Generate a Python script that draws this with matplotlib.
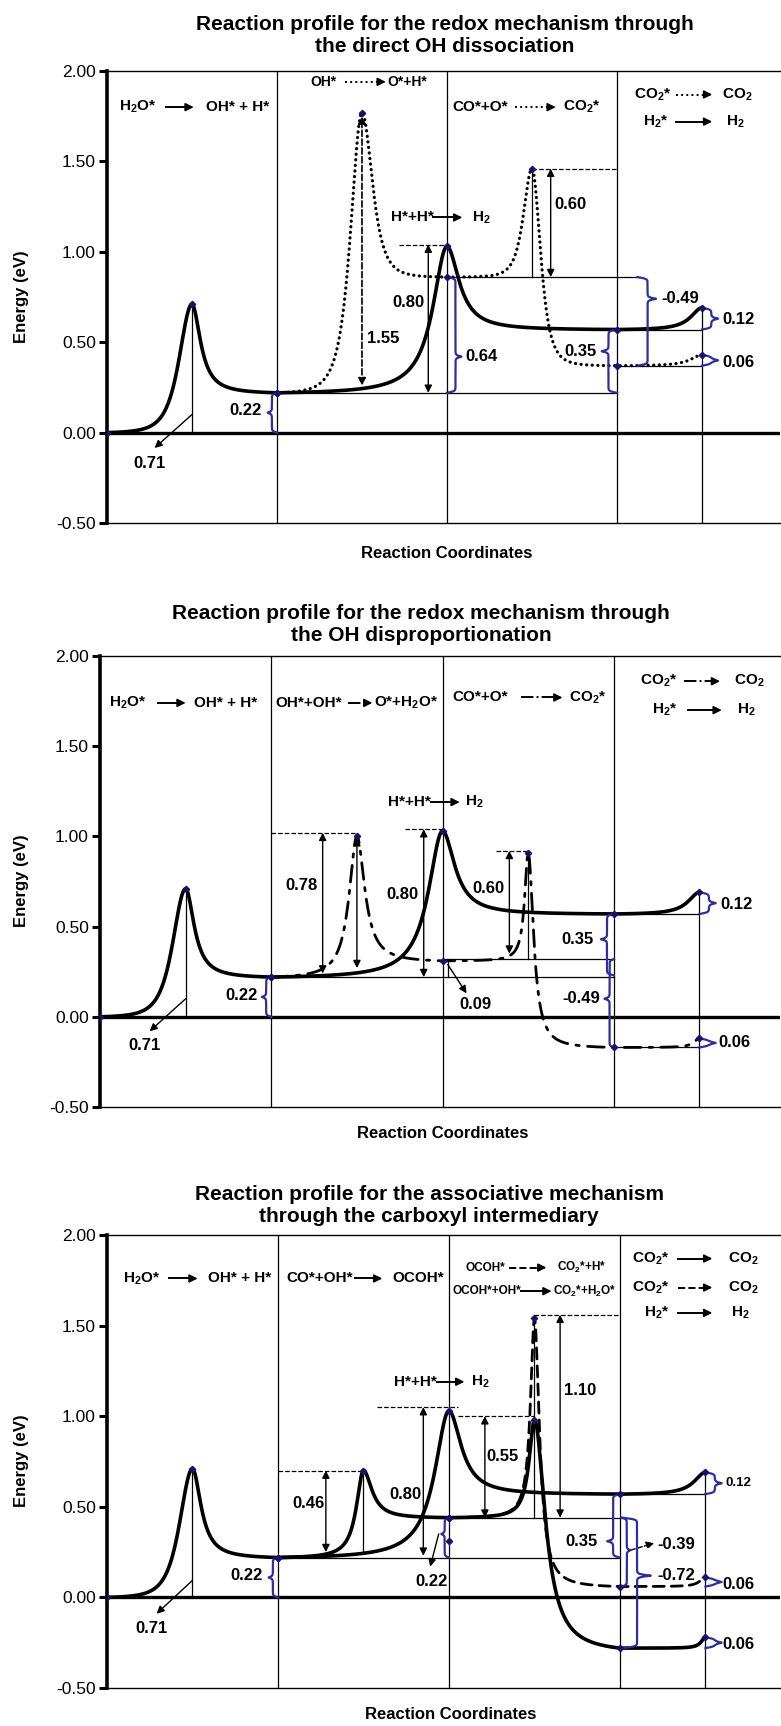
import numpy as np
import matplotlib
matplotlib.use('Agg')
import matplotlib.pyplot as plt

plt.rcParams['font.family'] = ['Liberation Sans', 'DejaVu Sans']
plt.rcParams['mathtext.fontset'] = 'custom'
plt.rcParams['mathtext.rm'] = 'Liberation Sans:bold'
plt.rcParams['mathtext.it'] = 'Liberation Sans:bold'
plt.rcParams['mathtext.bf'] = 'Liberation Sans:bold'

# ---- datos: puntos estacionarios (coordenada de reaccion, energia en eV) ----
coord_h2 = [0, 0.5, 1, 2, 3, 3.5]
energia_h2 = [0.00, 0.71, 0.22, 1.03, 0.57, 0.69]

coord_oh = [1, 1.5, 2, 2.5, 3, 3.5]
energia_disociacion = [0.22, 1.77, 0.86, 1.46, 0.37, 0.43]
energia_desproporcion = [0.22, 1.00, 0.31, 0.91, -0.17, -0.12]
energia_carboxilo = [0.22, 0.70, 0.44, 0.98, -0.28, -0.22]

coord_ocoh = [2, 2.5, 3, 3.5]
energia_ocoh = [0.44, 1.54, 0.06, 0.11]

ticks_y = [-0.5, 0.0, 0.5, 1.0, 1.5, 2.0]

titulos = ["Reaction profile for the redox mechanism through\nthe direct OH dissociation",
           "Reaction profile for the redox mechanism through\nthe OH disproportionation",
           "Reaction profile for the associative mechanism\nthrough the carboxyl intermediary"]

AZUL = '#2e2e9c'
MARCA = '#141470'
W, H = 781, 1726


def tramo(x0, e0, x1, e1, w, p, n=300):
    """Tramo suave entre dos puntos estacionarios (forma de pico)."""
    xs = np.linspace(x0, x1, n)
    U = (x1 - x0) / w
    if e1 > e0:
        u = (x1 - xs) / w
        alto, base = e1, e0
    else:
        u = (xs - x0) / w
        alto, base = e0, e1
    f = 1 / (1 + u ** 2) ** p
    fU = 1 / (1 + U ** 2) ** p
    f = (f - fU) / (1 - fU)
    return xs, base + (alto - base) * f


def perfil(ax, xs, es, formas, estilo='-', lw=2.6):
    px, py = [], []
    for i in range(len(xs) - 1):
        w, p = formas[i]
        a, b = tramo(xs[i], es[i], xs[i + 1], es[i + 1], w, p)
        px.extend(a)
        py.extend(b)
    ax.plot(px, py, color='k', lw=lw, ls=estilo, zorder=3,
            solid_capstyle='round', dash_capstyle='round')
    ax.plot(xs, es, 'D', ms=3.2, color=MARCA, zorder=5)


def llave(ax, x, y0, y1, lado, ym=None, w1=0.03, w2=0.025, beta=220):
    if ym is None:
        ym = (y0 + y1) / 2
    ya = np.linspace(y0, ym, 150)
    s = np.abs(ya - y0)
    h = abs(ym - y0)
    xa = w1 * (2 / (1 + np.exp(-beta * s)) - 1) + w2 * 2 / (1 + np.exp(-beta * (s - h)))
    yb = np.linspace(ym, y1, 150)
    s = np.abs(y1 - yb)
    h = abs(y1 - ym)
    xb = w1 * (2 / (1 + np.exp(-beta * s)) - 1) + w2 * 2 / (1 + np.exp(-beta * (s - h)))
    ax.plot(x + lado * np.concatenate([xa, xb]), np.concatenate([ya, yb]),
            color=AZUL, lw=1.6, zorder=4)


def flecha(ax, x0, y0, x1, y1, doble=False, ls='-', lw=1.0):
    ax.annotate('', xy=(x1, y1), xytext=(x0, y0),
                arrowprops=dict(arrowstyle='<|-|>' if doble else '-|>', color='k',
                                lw=lw, linestyle=ls, mutation_scale=11,
                                shrinkA=0, shrinkB=0), zorder=4)


def valor(ax, x, y, texto, ha='center', fs=12):
    ax.text(x, y, texto, ha=ha, va='center', fontsize=fs, fontweight='bold', zorder=6)


def reaccion(ax, y, izq, x_izq, xa0, xa1, der, x_der, estilo='-', fs=11):
    ax.text(x_izq, y, izq, ha='right', va='center', fontsize=fs, fontweight='bold')
    ax.plot([xa0, xa1 - 0.03], [y, y], color='k', lw=1.4, ls=estilo)
    ax.annotate('', xy=(xa1, y), xytext=(xa1 - 0.04, y),
                arrowprops=dict(arrowstyle='-|>', color='k', lw=1.2,
                                mutation_scale=12, shrinkA=0, shrinkB=0))
    ax.text(x_der, y, der, ha='left', va='center', fontsize=fs, fontweight='bold')


def hlinea(ax, x0, x1, y, ls='-'):
    ax.plot([x0, x1], [y, y], color='k', lw=0.9, ls=ls, zorder=2)


def vlinea(ax, x, y0, y1):
    ax.plot([x, x], [y0, y1], color='k', lw=0.9, zorder=2)


def ejes(fig, izq, der, arriba, abajo, xmax):
    ax = fig.add_axes([izq / W, 1 - abajo / H, (der - izq) / W, (abajo - arriba) / H])
    ax.set_xlim(0, xmax)
    ax.set_ylim(-0.5, 2.0)
    ax.set_yticks(ticks_y)
    ax.set_yticklabels(['%.2f' % t for t in ticks_y])
    ax.set_xticks([])
    ax.tick_params(axis='y', direction='out', length=6, width=2.2, labelsize=12.5, pad=2)
    ax.spines['right'].set_visible(False)
    ax.spines['left'].set_linewidth(2.6)
    ax.spines['top'].set_linewidth(1.0)
    ax.spines['bottom'].set_linewidth(1.0)
    ax.axhline(0, color='k', lw=2.4, zorder=2)
    for xd in [1, 2, 3]:
        ax.axvline(xd, color='k', lw=0.9, zorder=1)
    vlinea(ax, 0.5, 0, 0.71)
    vlinea(ax, 3.5, -0.5, 0.69)
    return ax


fig = plt.figure(figsize=(W / 100, H / 100), dpi=100)

forma_h2 = [(0.135, 2), (0.06, 1), (0.1, 1), (0.085, 1), (0.08, 1)]
punteado = (0, (0.05, 1.7))

# ================= Panel 1: disociacion directa de OH =================
ax = ejes(fig, 107, 780, 71, 523, 3.959)
perfil(ax, coord_h2, energia_h2, forma_h2)
perfil(ax, coord_oh, energia_disociacion,
       [(0.12, 2), (0.11, 2), (0.09, 2), (0.09, 2), (0.08, 1)], estilo=punteado, lw=2.3)
reaccion(ax, 1.80, "H$_2$O*", 0.29, 0.35, 0.51, "OH* + H*", 0.58)
reaccion(ax, 1.94, "OH*", 1.35, 1.40, 1.64, "O*+H*", 1.65, estilo=':', fs=10)
reaccion(ax, 1.80, "CO*+O*", 2.36, 2.40, 2.64, "CO$_2$*", 2.68, estilo=':')
reaccion(ax, 1.87, "CO$_2$*", 3.32, 3.35, 3.56, "CO$_2$", 3.62, estilo=':')
reaccion(ax, 1.72, "H$_2$*", 3.30, 3.35, 3.56, "H$_2$", 3.64)
reaccion(ax, 1.19, "H*+H*", 1.92, 1.92, 2.09, "H$_2$", 2.15)
hlinea(ax, 1, 3, 0.22)
hlinea(ax, 2, 3.13, 0.86)
hlinea(ax, 3, 3.5, 0.57)
hlinea(ax, 3, 3.5, 0.37)
hlinea(ax, 1.72, 2.03, 1.04, ls='--')
hlinea(ax, 2.5, 3.0, 1.46, ls='--')
vlinea(ax, 2.5, 0.86, 1.46)
flecha(ax, 0.5, 0.10, 0.28, -0.085)
valor(ax, 0.25, -0.17, "0.71")
flecha(ax, 1.89, 0.22, 1.89, 1.04, doble=True)
valor(ax, 1.87, 0.72, "0.80", ha='right')
flecha(ax, 2.61, 0.86, 2.61, 1.46, doble=True)
valor(ax, 2.63, 1.26, "0.60", ha='left')
flecha(ax, 1.5, 0.26, 1.5, 1.75, doble=True, ls='--', lw=1.2)
valor(ax, 1.53, 0.52, "1.55", ha='left')
llave(ax, 1.0, 0.0, 0.22, -1)
valor(ax, 0.91, 0.12, "0.22", ha='right')
llave(ax, 2.0, 0.22, 0.86, 1, ym=0.42, w1=0.05, w2=0.035)
valor(ax, 2.11, 0.42, "0.64", ha='left')
llave(ax, 3.12, 0.37, 0.86, 1, ym=0.74, w1=0.06, w2=0.05)
valor(ax, 3.26, 0.74, "-0.49", ha='left')
llave(ax, 3.0, 0.22, 0.57, -1, ym=0.45, w1=0.05, w2=0.04)
valor(ax, 2.88, 0.45, "0.35", ha='right')
llave(ax, 3.5, 0.57, 0.69, 1, w1=0.055, w2=0.04)
valor(ax, 3.62, 0.627, "0.12", ha='left')
llave(ax, 3.5, 0.37, 0.43, 1, w1=0.055, w2=0.04)
valor(ax, 3.62, 0.385, "0.06", ha='left')

# ================= Panel 2: desproporcion de OH =================
ax = ejes(fig, 100, 780, 656, 1107, 3.97)
perfil(ax, coord_h2, energia_h2, forma_h2)
perfil(ax, coord_oh, energia_desproporcion,
       [(0.055, 1), (0.055, 1), (0.025, 1), (0.037, 1), (0.04, 1)],
       estilo=(0, (6, 3, 1.2, 3)), lw=2.0)
reaccion(ax, 1.74, "H$_2$O*", 0.27, 0.34, 0.50, "OH* + H*", 0.55)
reaccion(ax, 1.74, "OH*+OH*", 1.41, 1.45, 1.59, "O*+H$_2$O*", 1.60, estilo='-.')
reaccion(ax, 1.77, "CO*+O*", 2.38, 2.46, 2.70, "CO$_2$*", 2.74, estilo='-.')
reaccion(ax, 1.86, "CO$_2$*", 3.37, 3.41, 3.62, "CO$_2$", 3.70, estilo='-.')
reaccion(ax, 1.70, "H$_2$*", 3.37, 3.43, 3.63, "H$_2$", 3.72)
reaccion(ax, 1.19, "H*+H*", 1.93, 1.93, 2.10, "H$_2$", 2.13)
hlinea(ax, 1, 3, 0.22)
hlinea(ax, 2, 3, 0.32)
hlinea(ax, 3, 3.5, 0.57)
hlinea(ax, 3, 3.5, -0.17)
hlinea(ax, 1.0, 1.5, 1.02, ls='--')
hlinea(ax, 1.78, 2.0, 1.04, ls='--')
hlinea(ax, 2.31, 2.5, 0.92, ls='--')
vlinea(ax, 2.5, 0.32, 0.91)
vlinea(ax, 2.03, 0.22, 0.32)
flecha(ax, 0.5, 0.10, 0.29, -0.08)
valor(ax, 0.26, -0.16, "0.71")
flecha(ax, 1.30, 0.24, 1.30, 1.02, doble=True)
valor(ax, 1.27, 0.73, "0.78", ha='right')
flecha(ax, 1.5, 0.27, 1.5, 0.99, doble=True)
flecha(ax, 1.89, 0.22, 1.89, 1.04, doble=True)
valor(ax, 1.86, 0.68, "0.80", ha='right')
flecha(ax, 2.39, 0.35, 2.39, 0.92, doble=True)
valor(ax, 2.36, 0.71, "0.60", ha='right')
flecha(ax, 2.03, 0.29, 2.14, 0.13)
valor(ax, 2.19, 0.07, "0.09")
llave(ax, 1.0, 0.0, 0.22, -1)
valor(ax, 0.92, 0.12, "0.22", ha='right')
llave(ax, 3.0, 0.23, 0.57, -1, ym=0.43, w1=0.04, w2=0.035)
valor(ax, 2.88, 0.43, "0.35", ha='right')
llave(ax, 3.0, -0.17, 0.32, -1, ym=0.10, w1=0.025, w2=0.03)
valor(ax, 2.92, 0.10, "-0.49", ha='right')
llave(ax, 3.5, 0.57, 0.69, 1, w1=0.055, w2=0.04)
valor(ax, 3.62, 0.62, "0.12", ha='left')
llave(ax, 3.5, -0.17, -0.12, 1, w1=0.055, w2=0.04)
valor(ax, 3.61, -0.14, "0.06", ha='left')

# ================= Panel 3: mecanismo asociativo (carboxilo) =================
ax = ejes(fig, 107, 780, 1235, 1688, 3.936)
perfil(ax, coord_h2, energia_h2, forma_h2)
perfil(ax, coord_oh, energia_carboxilo,
       [(0.05, 1), (0.06, 1), (0.038, 1), (0.075, 1), (0.03, 1)])
perfil(ax, coord_ocoh, energia_ocoh, [(0.028, 1), (0.035, 1), (0.04, 1)],
       estilo=(0, (4, 2.5)), lw=2.0)
ax.plot([2.0], [0.31], 'D', ms=3.2, color=MARCA, zorder=5)
reaccion(ax, 1.76, "H$_2$O*", 0.31, 0.36, 0.53, "OH* + H*", 0.59)
reaccion(ax, 1.76, "CO*+OH*", 1.44, 1.45, 1.61, "OCOH*", 1.67)
reaccion(ax, 1.82, "OCOH*", 2.33, 2.35, 2.57, "CO$_2$*+H*", 2.63, estilo='--', fs=8.5)
reaccion(ax, 1.69, "OCOH*+OH*", 2.42, 2.42, 2.60, "CO$_2$*+H$_2$O*", 2.61, fs=8.5)
reaccion(ax, 1.87, "CO$_2$*", 3.29, 3.34, 3.54, "CO$_2$", 3.63)
reaccion(ax, 1.71, "CO$_2$*", 3.29, 3.34, 3.54, "CO$_2$", 3.63, estilo='--')
reaccion(ax, 1.57, "H$_2$*", 3.29, 3.34, 3.54, "H$_2$", 3.65)
reaccion(ax, 1.19, "H*+H*", 1.93, 1.93, 2.09, "H$_2$", 2.13)
hlinea(ax, 1, 3, 0.22)
hlinea(ax, 2, 3.01, 0.44)
hlinea(ax, 3, 3.5, 0.57)
hlinea(ax, 1.0, 1.5, 0.70, ls='--')
hlinea(ax, 1.58, 2.05, 1.05, ls='--')
hlinea(ax, 2.05, 2.5, 1.0, ls='--')
hlinea(ax, 2.5, 3.0, 1.56, ls='--')
vlinea(ax, 1.5, 0.24, 0.69)
vlinea(ax, 2.5, 0.44, 1.54)
flecha(ax, 0.5, 0.094, 0.29, -0.09)
valor(ax, 0.26, -0.17, "0.71")
flecha(ax, 1.28, 0.25, 1.28, 0.70, doble=True)
valor(ax, 1.27, 0.52, "0.46", ha='right')
flecha(ax, 1.85, 0.23, 1.85, 1.05, doble=True)
valor(ax, 1.84, 0.57, "0.80", ha='right')
flecha(ax, 2.21, 0.44, 2.21, 1.0, doble=True)
valor(ax, 2.22, 0.78, "0.55", ha='left')
flecha(ax, 2.65, 0.44, 2.65, 1.56, doble=True)
valor(ax, 2.67, 1.14, "1.10", ha='left')
flecha(ax, 1.94, 0.35, 1.89, 0.17)
valor(ax, 1.90, 0.09, "0.22")
flecha(ax, 3.06, 0.26, 3.2, 0.30, ls='--')
valor(ax, 3.22, 0.29, "-0.39", ha='left')
llave(ax, 1.0, 0.0, 0.22, -1)
valor(ax, 0.91, 0.12, "0.22", ha='right')
llave(ax, 2.0, 0.22, 0.44, -1, ym=0.35, w1=0.025, w2=0.02)
llave(ax, 3.0, 0.22, 0.57, -1, ym=0.31, w1=0.04, w2=0.035)
valor(ax, 2.87, 0.31, "0.35", ha='right')
llave(ax, 3.01, 0.06, 0.44, 1, ym=0.26, w1=0.03, w2=0.02)
llave(ax, 3.01, -0.28, 0.44, 1, ym=0.12, w1=0.09, w2=0.08)
valor(ax, 3.22, 0.12, "-0.72", ha='left')
llave(ax, 3.5, 0.57, 0.69, 1, w1=0.055, w2=0.04)
valor(ax, 3.62, 0.63, "0.12", ha='left', fs=9.5)
llave(ax, 3.5, 0.06, 0.11, 1, w1=0.055, w2=0.04)
valor(ax, 3.6, 0.07, "0.06", ha='left')
llave(ax, 3.5, -0.28, -0.22, 1, w1=0.055, w2=0.04)
valor(ax, 3.6, -0.26, "0.06", ha='left')

# ---- titulos y etiquetas de ejes (posiciones en pixeles) ----
for titulo, (xt, yt) in zip(titulos, [(445, 35), (421, 624), (429, 1205)]):
    fig.text(xt / W, 1 - yt / H, titulo, ha='center', va='center', fontsize=15,
             fontweight='bold', linespacing=1.2)
for (xl, yl) in [(447, 553), (443, 1134), (451, 1714)]:
    fig.text(xl / W, 1 - yl / H, "Reaction Coordinates", ha='center', va='center',
             fontsize=12, fontweight='bold')
for yc in [297, 881, 1461]:
    fig.text(22 / W, 1 - yc / H, "Energy (eV)", ha='center', va='center', rotation=90,
             fontsize=12, fontweight='bold')

fig.savefig('out.png', dpi=100)
